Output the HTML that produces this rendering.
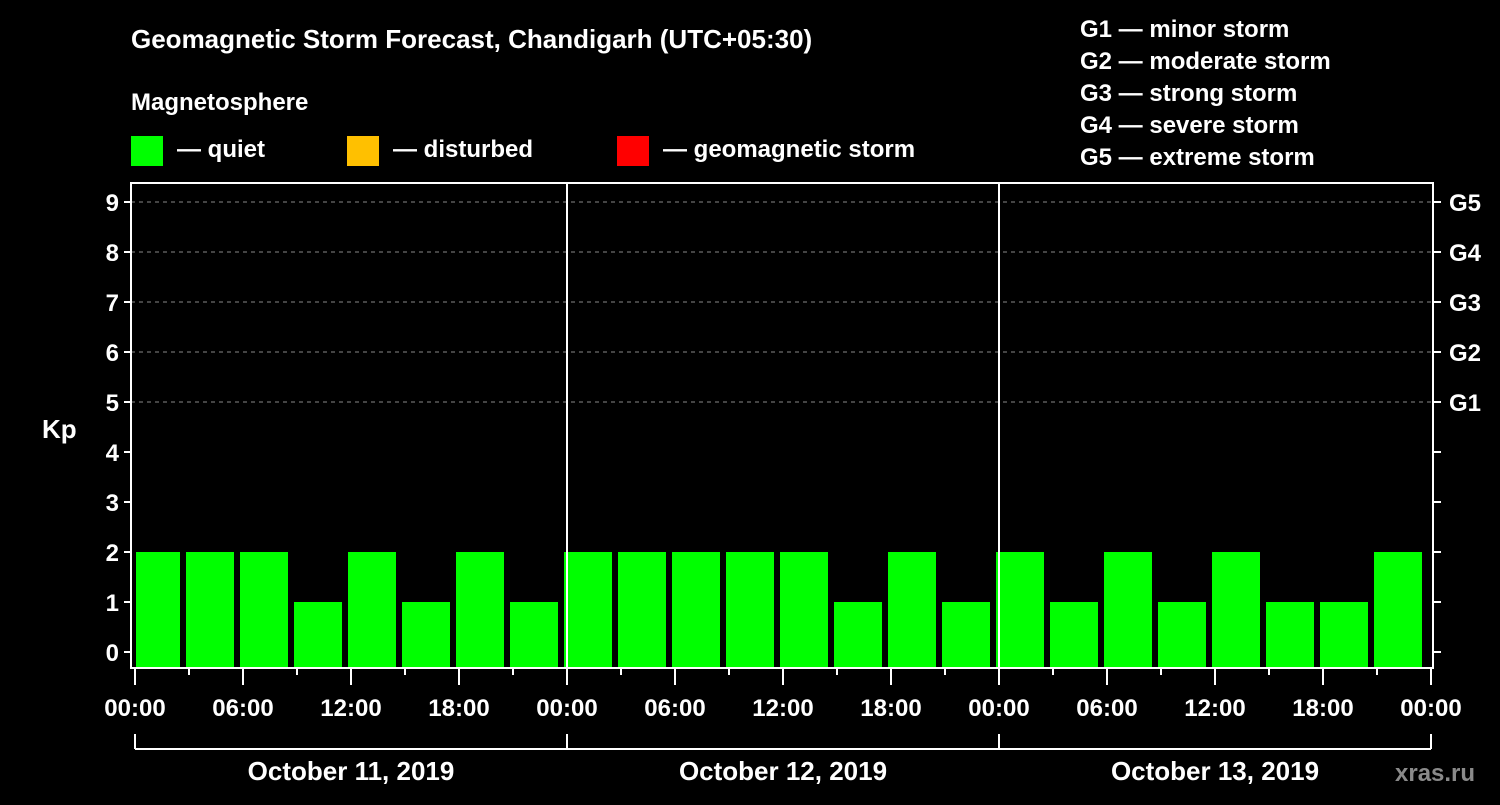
<!DOCTYPE html>
<html><head><meta charset="utf-8"><style>
body{margin:0;background:#000;width:1500px;height:800px;overflow:hidden}
svg text{font-family:"Liberation Sans",sans-serif;font-weight:bold;fill:#fff}
</style></head><body>
<svg id="chart" width="1500" height="800" xmlns="http://www.w3.org/2000/svg">
<text x="131" y="48" font-size="26">Geomagnetic Storm Forecast, Chandigarh (UTC+05:30)</text>
<text x="131" y="110" font-size="24">Magnetosphere</text>
<rect x="131" y="136" width="32" height="30" fill="#00ff00"/>
<text x="177" y="157" font-size="24">— quiet</text>
<rect x="347" y="136" width="32" height="30" fill="#ffc000"/>
<text x="393" y="157" font-size="24">— disturbed</text>
<rect x="617" y="136" width="32" height="30" fill="#ff0000"/>
<text x="663" y="157" font-size="24">— geomagnetic storm</text>
<g font-size="24">
<text x="1080" y="37">G1 — minor storm</text>
<text x="1080" y="69">G2 — moderate storm</text>
<text x="1080" y="101">G3 — strong storm</text>
<text x="1080" y="133">G4 — severe storm</text>
<text x="1080" y="165">G5 — extreme storm</text>
</g>
<text x="42" y="438" font-size="26">Kp</text>
<text x="1395" y="781" font-size="24" fill="#888" style="fill:#8a8a8a">xras.ru</text>
<g id="grid"></g><g id="bars"></g><g id="axes"></g>
</svg>
<script>
const kpValues=[2,2,2,1,2,1,2,1,2,2,2,2,2,1,2,1,2,1,2,1,2,1,1,2,2];
const yTicks=[0,1,2,3,4,5,6,7,8,9];
const gLabels=["G1","G2","G3","G4","G5"];
const xTickLabels=["00:00","06:00","12:00","18:00"];
const dayLabels=["October 11, 2019","October 12, 2019","October 13, 2019"];
const NS="http://www.w3.org/2000/svg";
const X0=135,DAY=432,L=131,R=1433,T=183,B=668;
const x=h=>X0+h*DAY/24;
const y=v=>652-50*v;
function mk(p,tag,a){const e=document.createElementNS(NS,tag);for(const k in a)e.setAttribute(k,a[k]);document.getElementById(p)?document.getElementById(p).appendChild(e):p.appendChild(e);return e;}
const grid=document.getElementById('grid'),bars=document.getElementById('bars'),axes=document.getElementById('axes');
yTicks.forEach(v=>{
 if(v>=5){const g=mk(grid,'line',{x1:L,x2:R,y1:y(v),y2:y(v),stroke:'#888','stroke-dasharray':'4,4'});
 
 }
 const t=mk(axes,'line',{x1:L-7,x2:L,y1:y(v),y2:y(v),stroke:'#fff','stroke-width':2});
 
 
 const t2=mk(axes,'line',{x1:R,x2:R+8,y1:y(v),y2:y(v),stroke:'#fff','stroke-width':2});
 
 
 const lb=mk(axes,'text',{x:L-12,y:y(v)+9,'font-size':24,'text-anchor':'end'});lb.textContent=v;
 
 
});
gLabels.forEach((g,i)=>{const lb=mk(axes,'text',{x:1449,y:y(5+i)+9,'font-size':24});lb.textContent=g;
 
 });
kpValues.forEach((v,i)=>{
 let s=x(-0.5+3*i)+6,e=x(-0.5+3*i+3);
 s=Math.max(s,X0+1);e=Math.min(e,R-5);
 const r=mk(bars,'rect',{x:s,y:y(v),width:e-s,height:B-y(v),fill:'#00ff00'});
 
 
});
[1,2].forEach(d=>{const l=mk(axes,'line',{x1:x(24*d),x2:x(24*d),y1:T,y2:B,stroke:'#fff','stroke-width':2});
 
 });
const fr=mk(axes,'rect',{x:L,y:T,width:R-L,height:B-T,fill:'none',stroke:'#fff','stroke-width':2});


for(let h=0;h<=72;h+=3){
 const major=h%6===0;
 const t=mk(axes,'line',{x1:x(h),x2:x(h),y1:B,y2:B+(major?17:7),stroke:'#fff','stroke-width':2});
 
 
 if(major){const lb=mk(axes,'text',{x:x(h),y:716,'font-size':24,'text-anchor':'middle'});
  lb.textContent=xTickLabels[(h%24)/6];
  
  }
}
const br=mk(axes,'line',{x1:x(0),x2:x(72),y1:749,y2:749,stroke:'#fff','stroke-width':2});


for(let d=0;d<=3;d++){const t=mk(axes,'line',{x1:x(24*d),x2:x(24*d),y1:734,y2:749,stroke:'#fff','stroke-width':2});
 
 }
dayLabels.forEach((s,d)=>{const lb=mk(axes,'text',{x:x(24*d+12),y:780,'font-size':26,'text-anchor':'middle'});lb.textContent=s;
 
 });
</script>
</body></html>
